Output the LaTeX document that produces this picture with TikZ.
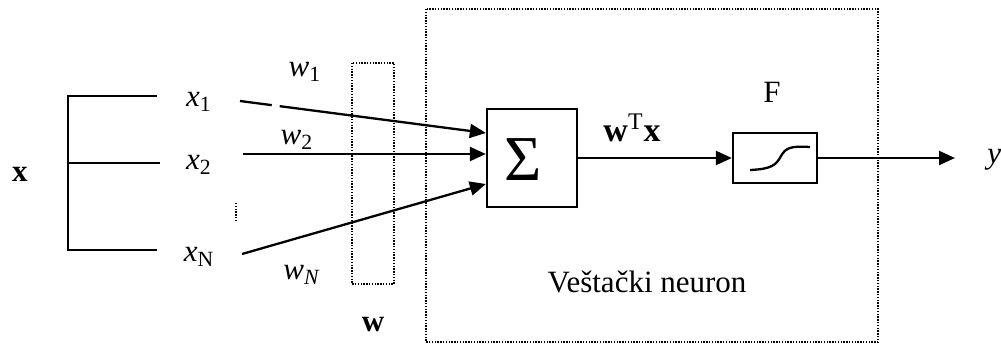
\documentclass[tikz,border=0pt]{standalone}
\usepackage{fontspec}
\setmainfont{Liberation Serif}
\usetikzlibrary{arrows.meta,calc}
\begin{document}
\begin{tikzpicture}[x=0.5pt,y=-0.5pt,
  font=\fontsize{15.5}{18}\selectfont,
  line/.style={line width=1.15pt},
  arr/.style={line width=1.15pt,-{Triangle[length=8pt,width=7pt]}},
  dotbox/.style={line width=0.8pt,dash pattern=on 0.7pt off 0.7pt},
  blk/.style={draw,line width=1.15pt,inner sep=0pt},
  lab/.style={inner sep=1pt}
]
\useasboundingbox (0,0) rectangle (1001,344);

% dotted boxes
\draw[dotbox] (426,9) rectangle (878,342);
\draw[dotbox] (352,63) rectangle (394,284);

% input bracket
\draw[line] (157,96) -- (68,96) -- (68,250) -- (157,250);
\draw[line] (68,163) -- (160,163);
\node[lab] (xvec) at (20,174) {\textbf{x}};

% input labels
\node[lab] (x1) at (199,102) {\textit{x}\textsubscript{1}};
\node[lab] (x2) at (199,165) {\textit{x}\textsubscript{2}};
\node[lab] (xN) at (199,257) {\textit{x}\textsubscript{N}};
\draw[line width=0.9pt,dash pattern=on 0.7pt off 0.7pt] (236,203) -- (236,220);

% weight labels
\node[lab] (w1) at (305,72) {\textit{w}\textsubscript{1}};
\node[lab] (w2) at (297,140) {\textit{w}\textsubscript{2}};
\node[lab] (wN) at (302,275) {\textit{w}\textsubscript{\textit{N}}};
\node[lab] (wvec) at (373,325) {\textbf{w}};

% summation block
\node[blk,minimum width=45pt,minimum height=49pt] (sum) at (532,158) {};
\node[lab] (sigma) at (523,160) {\fontsize{32}{34}\selectfont Σ};

% input arrows
\coordinate (s1) at (240,101);
\coordinate (s2) at (243,154);
\coordinate (sN) at (242,254);
\coordinate (e1) at ($(sum.west)+(0,-25)$);
\coordinate (e2) at ($(sum.west)+(0,-4)$);
\coordinate (eN) at ($(sum.west)+(0,26)$);
\draw[arr,dash pattern=on 16pt off 4pt on 400pt] (s1) -- (e1);
\draw[arr] (s2) -- (e2);
\draw[arr] (sN) -- (eN);

% activation block
\node[blk,minimum width=42pt,minimum height=25pt] (F) at (775,158) {};
\draw[line] (750,170) .. controls (772,169) and (776,165) .. (781,156)
            .. controls (786,147) and (792,146) .. (810,147);
\node[lab] (Flab) at (772,92) {F};

\draw[arr] (sum.east) -- (F.west);
\node[lab] (wtx) at (632,128) {\fontsize{17}{20}\selectfont\textbf{w}\textsuperscript{T}\textbf{x}};

% output
\node[lab,anchor=west] (ylab) at (985,160) {\textit{y}};
\coordinate (yend) at (955,158);
\draw[arr] (F.east) -- (yend);

\node[lab] (neuron) at (647,282) {Veštački neuron};
\end{tikzpicture}
\end{document}
